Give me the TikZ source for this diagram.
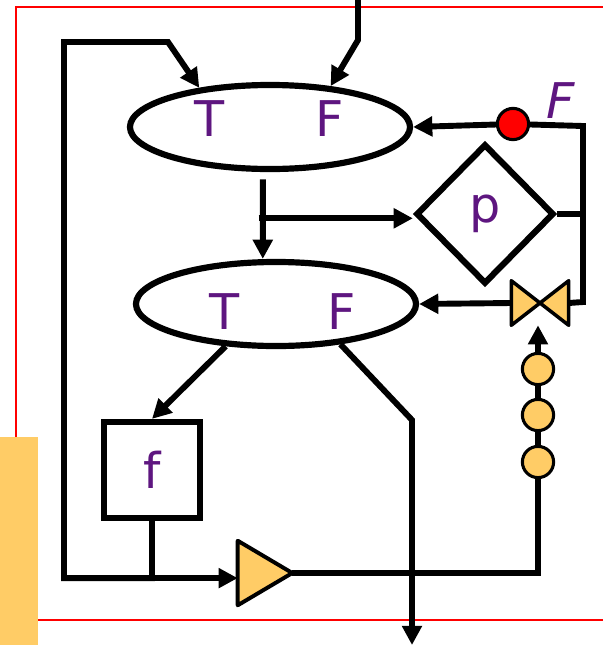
\documentclass[tikz,border=0pt]{standalone}
\usepackage{fontspec}
\setmainfont{DejaVu Sans}
\usetikzlibrary{shapes.geometric, arrows.meta, calc}
\definecolor{cPurple}{RGB}{94,22,128}
\definecolor{cOrange}{RGB}{255,204,102}
\definecolor{cRed}{RGB}{255,0,0}
\tikzset{
    state/.style    ={ellipse, draw=black, line width=4.4pt, minimum width=7cm, minimum height=2.1cm, inner sep=0pt},
    test/.style     ={diamond, draw=black, line width=4.4pt, minimum width=3.45cm, minimum height=3.5cm, inner sep=0pt, text=cPurple, font=\fontsize{35}{40}\selectfont},
    fun/.style      ={rectangle, draw=black, line width=4.4pt, minimum width=2.4cm, minimum height=2.4cm, inner sep=0pt, text=cPurple, font=\fontsize{35}{40}\selectfont},
    lbl/.style      ={text=cPurple, font=\fontsize{35}{40}\selectfont, inner sep=0pt},
    dot/.style      ={circle, draw=black, line width=2.2pt, minimum size=0.78cm, inner sep=0pt, fill=cOrange},
    flowarrow/.style={-{Triangle[length=4.8mm, width=4.8mm]}, line width=4.2pt},
    wire/.style     ={line width=4.2pt},
}

\begin{document}
\begin{tikzpicture}[x=0.025cm, y=-0.025cm]
    \useasboundingbox (0,0) rectangle (603,645);
    % frame
    \draw[cRed, line width=1.2pt] (16,437) -- (16,7) -- (603,7);
    \draw[cRed, line width=1.2pt] (38,620) -- (603,620);
    \fill[cOrange] (0,437) rectangle (38,645);

    \node[state] (up) at (270,127) {};
    \node[lbl] (upT) at (210,119) {T};
    \node[lbl] (upF) at (330,119) {F};
    \node[state] (lo) at (276,304) {};
    \node[lbl] (loT) at (225,312) {T};
    \node[lbl] (loF) at (342,312) {F};
    \node[test] (p) at (485,214) {p};
    \node[fun] (f) at (152,470) {f};
    \node[inner sep=0pt, minimum width=1.42cm, minimum height=1.1cm] (valve) at (540,303) {};
    \node[inner sep=0pt, minimum width=1.35cm, minimum height=1.6cm] (amp) at (265,573) {};
    \filldraw[fill=cOrange, line width=2.5pt, line join=round] (valve.north west) -- (valve.south east) -- (valve.north east) -- (valve.south west) -- cycle;
    \filldraw[fill=cOrange, line width=2.8pt, line join=round] (amp.north west) -- (amp.east) -- (amp.south west) -- cycle;
    \node[dot] (d1) at (538,369) {};
    \node[dot] (d2) at (538,415) {};
    \node[dot] (d3) at (538,462) {};

    \coordinate (in) at (358,0);
    \coordinate (rt) at (583,126);
    \coordinate (rb) at (583,302);
    \coordinate (out) at (412,645);

    % connectors
    \draw[flowarrow] (in) -- (358,40) -- (up.34);
    \draw[flowarrow] (f.south) -- ++(0,57) coordinate (j) -| (64,42) -- (168,42) -- (up.151);
    \draw[flowarrow] (j) -- (j -| amp.west);
    \draw[flowarrow] ([xshift=-0.18cm, yshift=-0.18cm]up.south) -- coordinate[pos=0.49] (br) ([xshift=-0.33cm]lo.north);
    \draw[flowarrow] ([xshift=-3pt]br) -- (br -| p.west);
    \draw[wire] (p.east) -- (p.east -| rt);
    \node[dot, fill=cRed] (cond) at (513,124) {};
    \node[lbl, font=\fontsize{35}{40}\selectfont\itshape] (condF) at (561,101) {F};
    \draw[wire] (cond) -- (rt) -- (rb) -- (valve.east);
    \draw[flowarrow] (cond) -- (up.east);
    \draw[flowarrow] (valve.west) -- (lo.east);
    \draw[flowarrow] (lo.220) -- (f.north);
    \draw[flowarrow] (lo.328) -- (412,420) -- (out);
    \draw[wire] (amp.east) -| (d3);
    \draw[wire] (d3) -- (d2);
    \draw[wire] (d2) -- (d1);
    \draw[flowarrow] (d1) -- (d1 |- valve.south);
\end{tikzpicture}
\end{document}
